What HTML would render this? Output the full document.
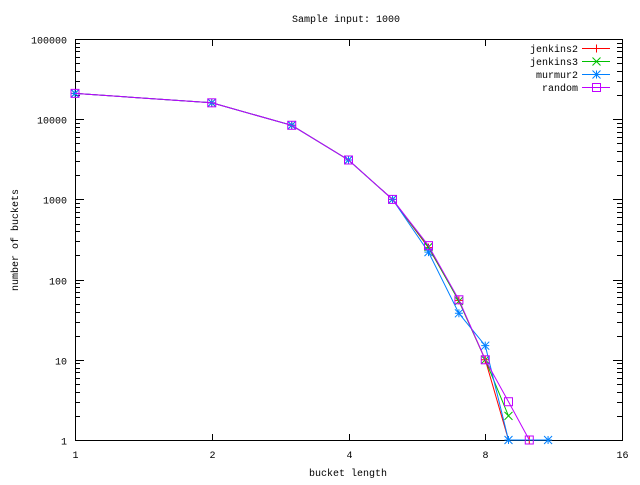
<!DOCTYPE html>
<html><head><meta charset="utf-8"><style>
body{margin:0;background:#fff}
svg text{font-family:"Liberation Mono",monospace;font-size:10px;fill:#000}
</style></head><body>
<svg id="s" width="640" height="480" xmlns="http://www.w3.org/2000/svg">
<rect width="640" height="480" fill="#fff"/>
<text x="346" y="22" text-anchor="middle">Sample input: 1000</text>
<text x="348" y="476" text-anchor="middle">bucket length</text>
<text transform="translate(18,240) rotate(-90)" text-anchor="middle">number of buckets</text>
<g id="ax" stroke="#000" stroke-width="1" fill="none"></g>
<g id="plot" fill="none"></g>
</svg>
<script>
var s=document.getElementById('s'),ax=document.getElementById('ax'),pl=document.getElementById('plot');
var NS='http://www.w3.org/2000/svg';
function X(v){return 75+136.75*Math.log2(v);}
function Y(v){return 440-80.2*Math.log10(v);}
function el(p,t,a){var e=document.createElementNS(NS,t);for(var k in a)e.setAttribute(k,a[k]);p.appendChild(e);return e;}
el(ax,'rect',{x:75.5,y:39.5,width:547,height:401});
var xl=[1,2,4,8,16];
xl.forEach(function(v){var x=Math.round(X(v))+.5;
el(ax,'path',{d:'M'+x+' 440V434M'+x+' 40V46'});
var t=el(s,'text',{x:x,y:458,'text-anchor':'middle'});t.textContent=v;});
var yl=['1','10','100','1000','10000','100000'];
for(var d=0;d<=5;d++){var y=Math.round(Y(Math.pow(10,d)))+.5;
el(ax,'path',{d:'M75 '+y+'H84M622 '+y+'H613'});
var t=el(s,'text',{x:67,y:y+4,'text-anchor':'end'});t.textContent=yl[d];
if(d<5)for(var k=2;k<10;k++){var yy=Math.round(Y(k*Math.pow(10,d)))+.5;el(ax,'path',{d:'M75 '+yy+'H80M622 '+yy+'H617'});}}
var base=[[1,21000],[2,16000],[3,8400],[4,3100],[5,1000]];
var series=[
{c:'#ff0000',m:'+',d:base.concat([[6,250],[7,55],[8,10],[9,1],[10,1]])},
{c:'#00c000',m:'x',d:base.concat([[6,255],[7,54],[8,10],[9,2]])},
{c:'#0080ff',m:'*',d:base.concat([[6,220],[7,38],[8,15],[9,1],[11,1]])},
{c:'#c000ff',m:'s',d:base.concat([[6,265],[7,56],[8,10],[9,3],[10,1]])}];
function mark(g,m,x,y,c){var a={stroke:c,'stroke-width':1,fill:'none'};
if(m=='+'||m=='*'){el(g,'path',Object.assign({d:'M'+(x-4)+' '+y+'H'+(x+4)+'M'+x+' '+(y-4)+'V'+(y+4)},a));}
if(m=='x'||m=='*'){el(g,'path',Object.assign({d:'M'+(x-4)+' '+(y-4)+'L'+(x+4)+' '+(y+4)+'M'+(x-4)+' '+(y+4)+'L'+(x+4)+' '+(y-4)},a));}
if(m=='s'){el(g,'rect',Object.assign({x:x-4,y:y-4,width:8,height:8},a));}}
var names=['jenkins2','jenkins3','murmur2','random'];
series.forEach(function(se,i){
var pts=se.d.map(function(p){return X(p[0]).toFixed(1)+','+Y(p[1]).toFixed(1);}).join(' ');
el(pl,'polyline',{points:pts,stroke:se.c,'stroke-width':1,fill:'none'});
se.d.forEach(function(p){mark(pl,se.m,X(p[0]),Y(p[1]),se.c);});
var ly=48.5+i*13;
var t=el(s,'text',{x:578,y:ly+3.5,'text-anchor':'end'});t.textContent=names[i];
el(pl,'path',{d:'M582 '+ly+'H610',stroke:se.c,'stroke-width':1,fill:'none'});
mark(pl,se.m,596.5,ly,se.c);});
</script>
</body></html>
